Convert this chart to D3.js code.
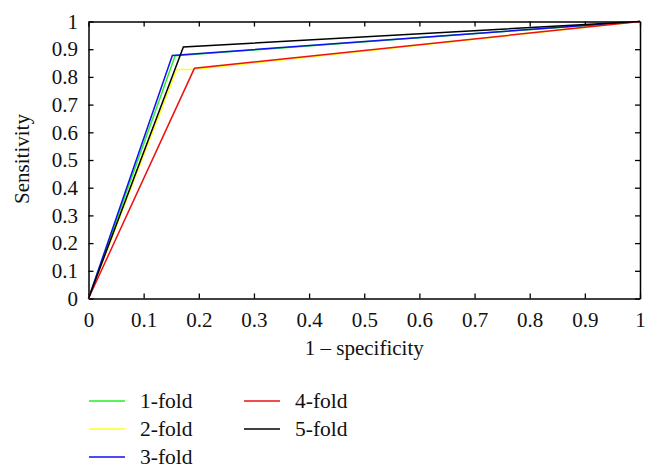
<!DOCTYPE html>
<html><head><meta charset="utf-8">
<script src="https://cdn.jsdelivr.net/npm/d3@7"></script>
<style>body{margin:0;background:#fff}svg{display:block}</style>
</head><body>
<script>
const seriesNames = ["1-fold","2-fold","3-fold","4-fold","5-fold"];
const seriesColors = ["#22ee22","#ffff22","#1111ee","#ee1111","#000000"];
const fpr1 = [0, 0.157, 1];   const tpr1 = [0, 0.876, 1];
const fpr2 = [0, 0.16, 0.19, 1]; const tpr2 = [0, 0.827, 0.827, 1];
const fpr3 = [0, 0.152, 1];   const tpr3 = [0, 0.877, 1];
const fpr4 = [0, 0.192, 1];   const tpr4 = [0, 0.831, 1];
const fpr5 = [0, 0.172, 1];   const tpr5 = [0, 0.908, 1];
const xTicks = [0,0.1,0.2,0.3,0.4,0.5,0.6,0.7,0.8,0.9,1];
const yTicks = [0,0.1,0.2,0.3,0.4,0.5,0.6,0.7,0.8,0.9,1];
const xLabel = "1 – specificity";
const yLabel = "Sensitivity";

const W=656,H=475;
const L=88.5,R=640,T=21.5,B=298.5;
const FONT="'Liberation Serif','Times New Roman',serif";
const svg=d3.select("body").append("svg").attr("width",W).attr("height",H)
  .style("font-family",FONT);
const x=d3.scaleLinear().domain([0,1]).range([L,R]);
const y=d3.scaleLinear().domain([0,1]).range([B,T]);
const fmt=d=>d===0?"0":d===1?"1":d3.format(".1f")(d);
const tl=5;
// axes
const gx=svg.append("g").attr("transform",`translate(0,${B})`)
  .call(d3.axisBottom(x).tickValues(xTicks).tickFormat(fmt).tickSizeInner(-tl).tickSizeOuter(0).tickPadding(14));
const gxt=svg.append("g").attr("transform",`translate(0,${T})`)
  .call(d3.axisTop(x).tickValues(xTicks).tickFormat("").tickSizeInner(-tl).tickSizeOuter(0));
const gy=svg.append("g").attr("transform",`translate(${L},0)`)
  .call(d3.axisLeft(y).tickValues(yTicks).tickFormat(fmt).tickSizeInner(-tl).tickSizeOuter(0).tickPadding(10.5));
const gyr=svg.append("g").attr("transform",`translate(${R},0)`)
  .call(d3.axisRight(y).tickValues(yTicks).tickFormat("").tickSizeInner(-tl).tickSizeOuter(0));
[gx,gxt,gy,gyr].forEach(g=>{
  g.attr("font-family",FONT).attr("font-size",21);
  g.select(".domain").attr("stroke","#000").attr("stroke-width",1.5);
  g.selectAll(".tick line").attr("stroke","#000").attr("stroke-width",1.3);
  g.selectAll(".tick text").attr("fill","#111");
});
// series
const series=[[fpr1,tpr1],[fpr2,tpr2],[fpr3,tpr3],[fpr4,tpr4],[fpr5,tpr5]];
const line=d3.line().x(d=>x(d[0])).y(d=>y(d[1]));
series.forEach(([fx,ty],i)=>{
  const pts=fx.map((v,k)=>[v,ty[k]]);
  svg.append("path").attr("d",line(pts)).attr("fill","none")
    .attr("stroke",seriesColors[i]).attr("stroke-width",1.5).attr("stroke-linejoin","miter");
});
// titles
svg.append("text").attr("x",(L+R)/2).attr("y",355).attr("text-anchor","middle")
  .attr("font-size",21).attr("fill","#111").text(xLabel);
svg.append("text").attr("transform",`translate(29,159) rotate(-90)`).attr("text-anchor","middle")
  .attr("font-size",21).attr("fill","#111").text(yLabel);
// legend
const legPos=[[89,401],[89,429],[89,457],[244,401],[244,429]];
seriesNames.forEach((n,i)=>{
  const [lx,ly]=legPos[i];
  svg.append("line").attr("x1",lx).attr("x2",lx+36).attr("y1",ly).attr("y2",ly)
    .attr("stroke",seriesColors[i]).attr("stroke-width",1.5);
  svg.append("text").attr("x",lx+51).attr("y",ly+6.5).attr("font-size",21.5).attr("fill","#111").text(n);
});
</script>
</body></html>
